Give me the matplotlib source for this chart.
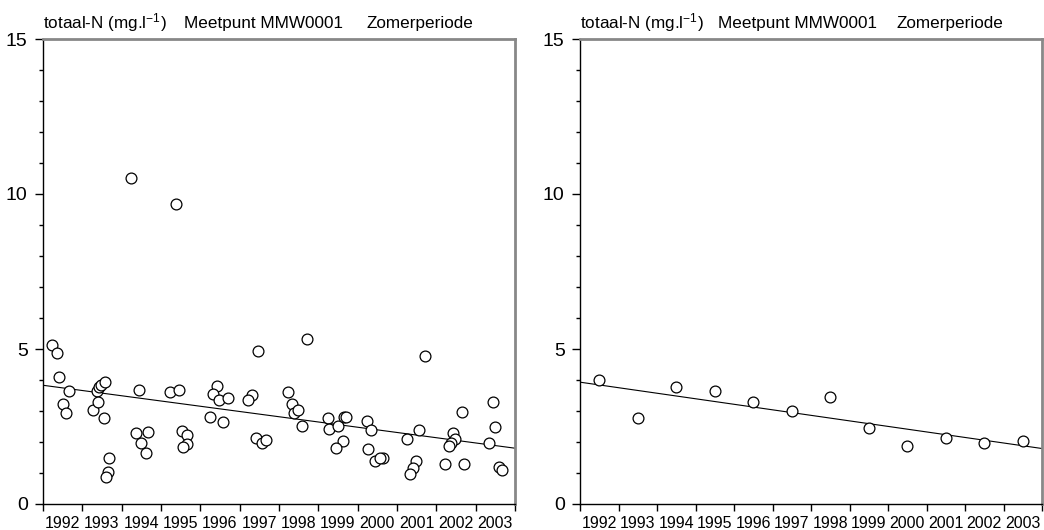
import numpy as np
import matplotlib.pyplot as plt
from matplotlib.ticker import MultipleLocator, FixedLocator, NullFormatter

plt.rcParams['font.family'] = ['Liberation Sans', 'DejaVu Sans']
plt.rcParams['mathtext.fontset'] = 'custom'
plt.rcParams['mathtext.rm'] = 'Liberation Sans'
plt.rcParams['mathtext.it'] = 'Liberation Sans'

# individual summer measurements (decimal year, total N in mg/l)
meet_jaar = [
    1992.24, 1992.35, 1992.41, 1992.66, 1992.51, 1992.59,
    1993.28, 1993.37, 1993.42, 1993.47, 1993.58, 1993.41, 1993.54, 1993.67, 1993.64, 1993.61,
    1994.45, 1994.36, 1994.68, 1994.50, 1994.62, 1994.23,
    1995.23, 1995.45, 1995.53, 1995.67, 1995.66, 1995.56, 1995.39,
    1996.43, 1996.31, 1996.47, 1996.70, 1996.25, 1996.57,
    1997.31, 1997.22, 1997.47, 1997.42, 1997.58, 1997.66,
    1998.70, 1998.23, 1998.34, 1998.39, 1998.49, 1998.59,
    1999.25, 1999.28, 1999.50, 1999.65, 1999.70, 1999.62, 1999.45,
    2000.23, 2000.35, 2000.26, 2000.44, 2000.65, 2000.58,
    2001.70, 2001.25, 2001.56, 2001.48, 2001.40, 2001.33,
    2002.65, 2002.42, 2002.48, 2002.37, 2002.33, 2002.23, 2002.71,
    2003.44, 2003.49, 2003.35, 2003.59, 2003.67,
]
meet_n = [
    5.12, 4.87, 4.11, 3.66, 3.24, 2.93,
    3.03, 3.66, 3.76, 3.84, 3.93, 3.28, 2.78, 1.50, 1.02, 0.88,
    3.68, 2.28, 2.33, 1.98, 1.64, 10.53,
    3.62, 3.69, 2.36, 2.21, 1.93, 1.83, 9.68,
    3.80, 3.54, 3.37, 3.43, 2.82, 2.64,
    3.53, 3.35, 4.92, 2.14, 1.97, 2.07,
    5.33, 3.62, 3.23, 2.94, 3.03, 2.53,
    2.77, 2.41, 2.53, 2.81, 2.82, 2.04, 1.81,
    2.68, 2.39, 1.79, 1.39, 1.49, 1.47,
    4.78, 2.09, 2.38, 1.39, 1.17, 0.98,
    2.98, 2.28, 2.09, 1.96, 1.87, 1.28, 1.28,
    3.29, 2.48, 1.98, 1.19, 1.09,
]

# summer means per year
jaren = np.arange(1992, 2004)
jaar_n = [3.99, 2.78, 3.76, 3.63, 3.28, 3.00, 3.46, 2.46, 1.87, 2.14, 1.98, 2.02]

# trend lines (values at begin and end of the period)
trend_x = [1992, 2004]
trend_links = [3.83, 1.80]
trend_rechts = [3.93, 1.79]

titel_delen = [r'totaal-N (mg.l$^{\mathrm{-1}}$)', 'Meetpunt MMW0001', 'Zomerperiode']

fig = plt.figure(figsize=(10.44, 5.30), dpi=100)
ax1 = fig.add_axes([43/1044, 26/530, 472/1044, 465/530])
ax2 = fig.add_axes([580/1044, 26/530, 462/1044, 465/530])


def opmaak(ax):
    ax.set_xlim(1992, 2004)
    ax.set_ylim(0, 15)
    ax.yaxis.set_major_locator(MultipleLocator(5))
    ax.yaxis.set_minor_locator(MultipleLocator(1))
    # year boundaries as ticks, labels in the middle of each year
    ax.xaxis.set_major_locator(FixedLocator(np.arange(1992, 2005)))
    ax.xaxis.set_major_formatter(NullFormatter())
    ax.xaxis.set_minor_locator(FixedLocator(jaren + 0.5))
    ax.set_xticklabels([str(j) for j in jaren], minor=True)
    ax.tick_params(axis='x', which='major', length=5, width=1, direction='out')
    ax.tick_params(axis='x', which='minor', length=0, labelsize=11.5, pad=9)
    ax.tick_params(axis='y', which='major', length=6, width=1, labelsize=14, pad=5)
    ax.tick_params(axis='y', which='minor', length=3, width=1)
    for s in ['top', 'right']:
        ax.spines[s].set_color('#888888')
        ax.spines[s].set_linewidth(2)
    for s in ['left', 'bottom']:
        ax.spines[s].set_color('black')
        ax.spines[s].set_linewidth(1)
    for xpos, deel in zip([0, 0.298, 0.685], titel_delen):
        ax.text(xpos, 1 + 11/465, deel, transform=ax.transAxes, fontsize=12.3,
                ha='left', va='baseline')


ax1.plot(meet_jaar, meet_n, 'o', mfc='white', mec='black', ms=7.8, mew=0.9, clip_on=False, zorder=3)
ax1.plot(trend_x, trend_links, color='black', lw=0.8)
opmaak(ax1)

ax2.plot(jaren + 0.5, jaar_n, 'o', mfc='white', mec='black', ms=7.8, mew=0.9, zorder=3)
ax2.plot(trend_x, trend_rechts, color='black', lw=0.8)
opmaak(ax2)

fig.savefig('out.png', dpi=100)
